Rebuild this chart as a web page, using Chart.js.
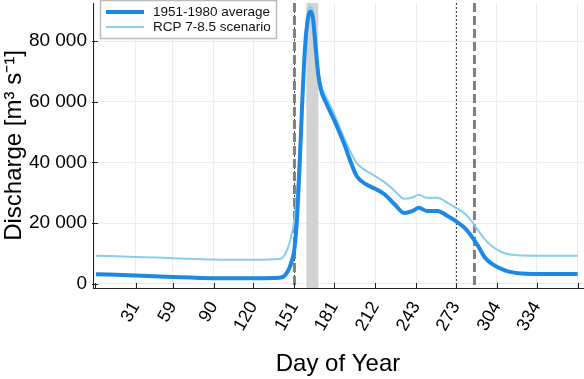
<!DOCTYPE html>
<html>
<head>
<meta charset="utf-8">
<script src="https://cdn.jsdelivr.net/npm/chart.js@4/dist/chart.umd.min.js"></script>
<style>
    html, body { margin: 0; padding: 0; background: #fff; }
    #wrap { width: 584px; height: 379px; }
</style>
</head>
<body>
<div id="wrap"><canvas id="chart" width="584" height="379"></canvas></div>
<script>
// Data
const days = [1, 31, 59, 90, 120, 140, 144, 147, 149, 151, 153, 155, 157, 159, 161, 163, 165, 167, 169, 171, 175, 181, 188, 198, 205, 212, 219, 227, 234, 240, 245, 251, 259, 266, 273, 280, 285, 290, 295, 300, 305, 310, 316, 323, 330, 345, 365];
const historical = [3100, 2700, 2200, 1800, 1750, 1900, 2800, 5000, 7500, 11500, 22000, 40000, 61000, 78000, 87000, 89800, 87500, 78000, 69000, 64000, 59500, 54000, 46700, 35500, 32800, 31300, 29500, 26000, 23300, 23900, 25000, 24000, 24000, 22500, 20600, 18200, 15500, 12200, 8500, 6600, 5300, 4400, 3700, 3300, 3200, 3200, 3200];
const scenario = [9200, 8800, 8400, 7950, 7850, 8100, 9800, 13000, 16500, 21000, 31000, 46000, 63000, 79500, 89500, 91300, 89800, 81000, 70000, 65500, 61500, 56000, 48600, 39800, 37300, 35500, 33500, 30500, 28000, 28400, 29300, 28300, 28300, 26800, 25000, 23000, 20500, 17400, 14500, 12400, 11000, 10000, 9500, 9250, 9200, 9200, 9200];

const seriesLabels = ['1951-1980 average', 'RCP 7-8.5 scenario'];
const monthTicks = [0, 31, 59, 90, 120, 151, 181, 212, 243, 273, 304, 334, 365];
const yTicks = [0, 20000, 40000, 60000, 80000];
const peakSpan = [160, 169];
const thinMarkers = [151, 273];
const thickMarkers = [151, 287];

Chart.defaults.font.family = '"Liberation Sans", Arial, sans-serif';
Chart.defaults.color = '#000';

function toPoints(values) {
    return days.map((d, i) => ({ x: d, y: values[i] }));
}

function fmt(v) {
    return String(v).replace(/\B(?=(\d{3})+(?!\d))/g, ' ');
}

// shaded window + vertical markers + inner ticks + legend
const decorations = {
    id: 'decorations',
    beforeDatasetsDraw(chart) {
        const { ctx, chartArea: a, scales: { x } } = chart;
        ctx.save();
        ctx.fillStyle = '#d3d3d3';
        const x0 = x.getPixelForValue(peakSpan[0]);
        const x1 = x.getPixelForValue(peakSpan[1]);
        ctx.fillRect(x0, a.top, x1 - x0, a.bottom - a.top);

        ctx.strokeStyle = '#444';
        ctx.lineWidth = 1;
        ctx.setLineDash([2, 2]);
        thinMarkers.forEach(d => {
            const px = Math.round(x.getPixelForValue(d)) + 0.5;
            ctx.beginPath();
            ctx.moveTo(px, a.top);
            ctx.lineTo(px, a.bottom);
            ctx.stroke();
        });

        ctx.strokeStyle = '#808080';
        ctx.lineWidth = 3;
        ctx.setLineDash([9, 4]);
        thickMarkers.forEach(d => {
            const px = x.getPixelForValue(d);
            ctx.beginPath();
            ctx.moveTo(px, a.top);
            ctx.lineTo(px, a.bottom);
            ctx.stroke();
        });
        ctx.restore();
    },
    afterDraw(chart) {
        const { ctx, chartArea: a, scales: { x, y } } = chart;
        ctx.save();
        // inner tick marks
        ctx.strokeStyle = '#222';
        ctx.lineWidth = 1;
        monthTicks.forEach(d => {
            const px = Math.round(x.getPixelForValue(d)) + 0.5;
            ctx.beginPath();
            ctx.moveTo(px, a.bottom);
            ctx.lineTo(px, a.bottom - 5);
            ctx.stroke();
        });
        yTicks.forEach(v => {
            const py = Math.round(y.getPixelForValue(v)) + 0.5;
            ctx.beginPath();
            ctx.moveTo(a.left - 1, py);
            ctx.lineTo(a.left + 5, py);
            ctx.stroke();
        });

        // legend box
        const lx = 100, ly = 0, lw = 176, lh = 38;
        ctx.fillStyle = '#fff';
        ctx.fillRect(lx, ly, lw, lh);
        ctx.strokeStyle = '#bbb';
        ctx.lineWidth = 1.5;
        ctx.strokeRect(lx + 0.5, ly + 0.5, lw, lh);
        ctx.font = '13.5px "Liberation Sans", Arial, sans-serif';
        ctx.textBaseline = 'middle';
        ctx.fillStyle = '#111';
        chart.data.datasets.forEach((ds, i) => {
            const yy = ly + 12 + i * 15;
            ctx.strokeStyle = ds.borderColor;
            ctx.lineWidth = ds.borderWidth;
            ctx.beginPath();
            ctx.moveTo(lx + 6, yy);
            ctx.lineTo(lx + 44, yy);
            ctx.stroke();
            ctx.fillText(ds.label, lx + 53, yy);
        });
        ctx.restore();
    }
};

new Chart(document.getElementById('chart'), {
    type: 'line',
    data: {
        datasets: [
            {
                label: seriesLabels[0],
                data: toPoints(historical),
                borderColor: '#1e88e5',
                borderWidth: 4,
                pointRadius: 0,
                cubicInterpolationMode: 'monotone'
            },
            {
                label: seriesLabels[1],
                data: toPoints(scenario),
                borderColor: '#87ceeb',
                borderWidth: 2,
                pointRadius: 0,
                cubicInterpolationMode: 'monotone'
            }
        ]
    },
    options: {
        responsive: false,
        animation: false,
        layout: { padding: { top: 3, right: 1, left: 0, bottom: 0 } },
        plugins: {
            legend: { display: false },
            tooltip: { enabled: false }
        },
        scales: {
            x: {
                type: 'linear',
                min: -1.2,
                max: 369,
                afterFit(scale) {
                    scale.height = 91;
                    scale.paddingLeft = 0;
                    scale.paddingRight = 0;
                },
                afterBuildTicks(scale) { scale.ticks = monthTicks.map(v => ({ value: v })); },
                ticks: {
                    font: { size: 18 },
                    minRotation: 60,
                    maxRotation: 60,
                    padding: 10,
                    autoSkip: false,
                    callback: v => (v === 0 || v === 365) ? '' : String(v)
                },
                grid: { color: '#ececec', drawTicks: false },
                border: { color: '#222', width: 1 },
                title: {
                    display: true,
                    text: 'Day of Year',
                    font: { size: 24 },
                    padding: { top: 0, bottom: 0 }
                }
            },
            y: {
                min: -1450,
                max: 92600,
                afterFit(scale) {
                    scale.width = 93;
                    scale.paddingTop = 0;
                    scale.paddingBottom = 0;
                },
                afterBuildTicks(scale) { scale.ticks = yTicks.map(v => ({ value: v })); },
                ticks: {
                    font: { size: 19 },
                    padding: 6,
                    callback: v => fmt(v)
                },
                grid: { color: '#ececec', drawTicks: false },
                border: { color: '#222', width: 1 },
                title: {
                    display: true,
                    text: 'Discharge [m³ s⁻¹]',
                    font: { size: 24 },
                    padding: { top: 0, bottom: 0 }
                }
            }
        }
    },
    plugins: [decorations]
});
</script>
</body>
</html>
